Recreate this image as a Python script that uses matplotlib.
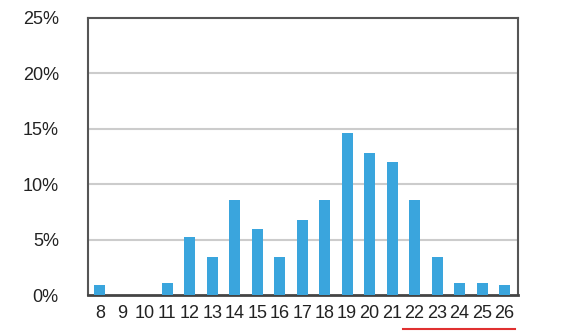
import matplotlib
matplotlib.use("Agg")
import matplotlib.pyplot as plt
import matplotlib.transforms as mtransforms

# Values
ages = [8, 9, 10, 11, 12, 13, 14, 15, 16, 17, 18, 19, 20, 21, 22, 23, 24, 25, 26]
shares = [0.9, 0.0, 0.0, 1.1, 5.2, 3.4, 8.6, 6.0, 3.4, 6.8, 8.6, 14.6, 12.8, 12.0, 8.6, 3.4, 1.1, 1.1, 0.9]
y_ticks = [0, 5, 10, 15, 20, 25]
underlined = (22, 26)

plt.rcParams['font.family'] = ['Liberation Sans', 'DejaVu Sans']

fig = plt.figure(figsize=(5.62, 3.35), dpi=100)
ax = fig.add_axes([88 / 562, 40 / 335, 430 / 562, 277 / 335])

ax.bar(ages, shares, width=0.49, color='#3aa5dd', zorder=3)

ax.set_xlim(ages[0] - 0.53, ages[-1] + 0.6)
ax.set_ylim(0, 25)
ax.set_yticks(y_ticks)
ax.set_yticklabels([f"{t}%" for t in y_ticks])
ax.set_xticks(ages)
ax.set_xticklabels([str(a) for a in ages])
ax.tick_params(axis='both', length=0, labelsize=13, colors='#222222')
ax.tick_params(axis='y', pad=21)
ax.tick_params(axis='x', pad=7)

for t in y_ticks[1:-1]:
    ax.axhline(t, color='#cccccc', linewidth=1.5, zorder=1)

for side in ['top', 'right', 'left']:
    ax.spines[side].set_color('#555555')
    ax.spines[side].set_linewidth(1.5)
ax.spines['bottom'].set_color('#444444')
ax.spines['bottom'].set_linewidth(2)

# red underline below the last labels
trans = mtransforms.blended_transform_factory(ax.transData, ax.transAxes)
ax.plot([underlined[0] - 0.5, underlined[1] + 0.45], [-0.124, -0.124],
        color='#e03030', linewidth=1.5, transform=trans, clip_on=False)

fig.savefig("out.png", dpi=100)
